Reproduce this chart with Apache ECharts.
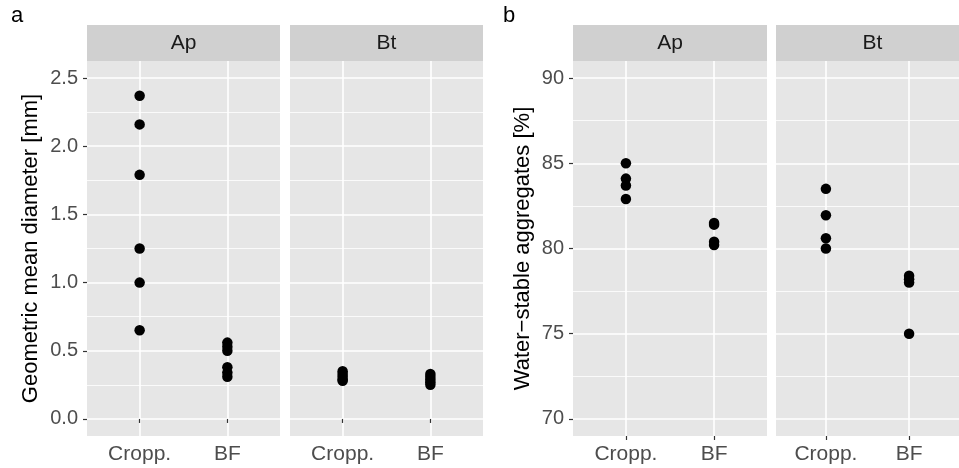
<!DOCTYPE html>
<html>
<head>
<meta charset="utf-8">
<script src="https://cdn.jsdelivr.net/npm/echarts@6/dist/echarts.min.js"></script>
<style>
  html, body { margin: 0; padding: 0; background: #fff; }
  #chart { width: 959px; height: 468px; }
</style>
</head>
<body>
<div id="chart"></div>
<script>
// categories and facets
var treatments = ['Cropp.', 'BF'];
var horizons = ['Ap', 'Bt'];

// a: geometric mean diameter [mm]
var gmdApCropp = [2.37, 2.16, 1.79, 1.25, 1.00, 0.65];
var gmdApBF = [0.56, 0.53, 0.50, 0.38, 0.34, 0.31];
var gmdBtCropp = [0.35, 0.33, 0.31, 0.29, 0.28];
var gmdBtBF = [0.33, 0.31, 0.29, 0.27, 0.25];
var gmdTicks = [0, 0.5, 1, 1.5, 2, 2.5];
var gmdMinor = [0.25, 0.75, 1.25, 1.75, 2.25];

// b: water-stable aggregates [%]
var wsaApCropp = [85.0, 84.1, 83.7, 82.9];
var wsaApBF = [81.5, 81.4, 80.4, 80.2];
var wsaBtCropp = [83.5, 81.95, 80.6, 80.0];
var wsaBtBF = [78.4, 78.2, 78.0, 75.0];
var wsaTicks = [70, 75, 80, 85, 90];
var wsaMinor = [72.5, 77.5, 82.5, 87.5];

var panels = [
  {left: 87, width: 193, cropp: gmdApCropp, bf: gmdApBF, ticks: gmdTicks, minor: gmdMinor, min: -0.125, max: 2.625, labels: true, name: 'Geometric mean diameter [mm]', gap: 45, strip: horizons[0]},
  {left: 290, width: 193, cropp: gmdBtCropp, bf: gmdBtBF, ticks: gmdTicks, minor: gmdMinor, min: -0.125, max: 2.625, labels: false, strip: horizons[1]},
  {left: 573, width: 194, cropp: wsaApCropp, bf: wsaApBF, ticks: wsaTicks, minor: wsaMinor, min: 69, max: 91, labels: true, name: 'Water\u2212stable aggregates [%]', gap: 39, strip: horizons[0]},
  {left: 776, width: 193, cropp: wsaBtCropp, bf: wsaBtBF, ticks: wsaTicks, minor: wsaMinor, min: 69, max: 91, labels: false, strip: horizons[1]}
];

var TOP = 61, HEIGHT = 375;
var grid = [], xAxis = [], yAxis = [], series = [], graphic = [];

panels.forEach(function (p, i) {
  grid.push({
    left: p.left, top: TOP, width: p.width, height: HEIGHT,
    show: true, backgroundColor: '#e6e6e6', borderWidth: 0
  });
  xAxis.push({
    type: 'value', gridIndex: i, min: 0.4, max: 2.6,
    axisLine: {show: false},
    axisTick: {show: true, length: 4, customValues: [1, 2], lineStyle: {color: '#333', width: 1.2}},
    axisLabel: {
      customValues: [1, 2], margin: 8, color: '#4d4d4d', fontSize: 21,
      fontFamily: 'Liberation Sans',
      formatter: function (v) { return treatments[Math.round(v) - 1]; }
    },
    splitLine: {show: true, lineStyle: {color: '#fff', width: 1.6}}
  });
  yAxis.push({
    type: 'value', gridIndex: i, min: p.min, max: p.max,
    name: p.name || '', nameLocation: 'middle', nameGap: p.gap || 0,
    nameTextStyle: {color: '#000', fontSize: 22, fontFamily: 'Liberation Sans'},
    axisLine: {show: false},
    axisTick: {show: p.labels, length: 4, customValues: p.ticks, lineStyle: {color: '#333', width: 1.2}},
    axisLabel: {
      show: p.labels, customValues: p.ticks, margin: 9, color: '#4d4d4d', fontSize: 20,
      fontFamily: 'Liberation Sans',
      formatter: function (v) { return p.min < 0 ? v.toFixed(1) : String(v); }
    },
    splitLine: {show: true, lineStyle: {color: '#fff', width: 1.6}}
  });
  series.push({
    type: 'scatter', xAxisIndex: i, yAxisIndex: i,
    symbolSize: 10.5, itemStyle: {color: '#000', opacity: 1},
    data: p.cropp.map(function (v) { return [1, v]; })
      .concat(p.bf.map(function (v) { return [2, v]; }))
  });
  // facet strip
  graphic.push({
    type: 'rect', left: p.left, top: 25,
    shape: {width: p.width, height: 36},
    style: {fill: '#d0d0d0'}
  });
  graphic.push({
    type: 'text', x: p.left + p.width / 2, y: 43,
    style: {text: p.strip, fill: '#1a1a1a', fontSize: 21, fontFamily: 'Liberation Sans',
      align: 'center', verticalAlign: 'middle'}
  });
});

// minor grid lines as hidden overlay axes
panels.forEach(function (p, i) {
  yAxis.push({
    type: 'value', gridIndex: i, min: p.min, max: p.max,
    axisLine: {show: false}, axisLabel: {show: false},
    axisTick: {show: false, customValues: p.minor},
    splitLine: {show: true, lineStyle: {color: '#fff', width: 0.8}}
  });
});

graphic.push({type: 'text', x: 11, y: 5, style: {text: 'a', fontSize: 22, fontFamily: 'Liberation Sans', fill: '#000'}});
graphic.push({type: 'text', x: 503, y: 5, style: {text: 'b', fontSize: 22, fontFamily: 'Liberation Sans', fill: '#000'}});

var chart = echarts.init(document.getElementById('chart'));
chart.setOption({
  animation: false,
  backgroundColor: '#fff',
  grid: grid,
  xAxis: xAxis,
  yAxis: yAxis,
  series: series,
  graphic: graphic
});
</script>
</body>
</html>
